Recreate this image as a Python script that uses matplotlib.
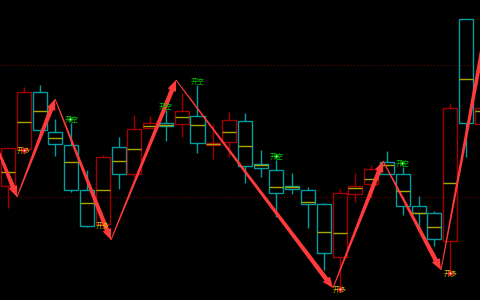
import matplotlib
matplotlib.use('Agg')
import matplotlib.pyplot as plt
from matplotlib.patches import Rectangle, Polygon
from matplotlib.transforms import IdentityTransform
import numpy as np

# OHLC (arbitrary price units)
opens  = [114, 151, 208, 168, 155, 110,  76, 153, 126, 172, 177, 176, 184, 155, 158, 179,
          136, 130, 114, 110,  96,  43, 106, 116, 138, 126,  94,  87,  59, 281, 176]
highs  = [152, 213, 215, 181, 177, 130, 145, 163, 185, 184, 190, 207, 215, 176, 188, 187,
          150, 140, 127, 113,  97, 111, 127, 135, 149, 133, 104,  89, 197, 281, 200]
lows   = [ 92, 151, 167, 144, 108,  73,  76, 111, 123, 172, 159, 163, 147, 141, 143, 117,
          123,  83, 106,  72,  30,  12,  98, 102, 126,  85,  70,  54,  28, 143, 170]
closes = [152, 208, 170, 156, 110,  74, 143, 126, 171, 177, 174, 189, 157, 157, 180, 134,
          132, 107, 111,  96,  47, 107, 114, 131, 126,  94,  87,  61, 192, 177, 192]
mids   = [128, 178, 189, 162, 138,  97, 110, 139, 151, 174, 175, 183, 175, 156, 168, 154,
          135, 113, 113,  98,  68,  67, 112, 121, 135, 109,  87,  73, 117, 221, 189]

# zigzag pivots (bar position, price)
zz_x = [-1.14, 0.57, 2.98, 6.52, 10.64, 20.58, 23.75, 27.42, 30.5]
zz_y = [170, 103, 201, 60, 220, 12, 139, 30, 290]

# signals
buy_idx = [1, 6, 21, 28]
buy_dot = [True, False, True, True]
sell_idx = [4, 10, 12, 17, 25]
sell_dot = [True, False, False, True, True]

levels = [235, 103]

RED = '#a00000'
CYAN = '#009ca0'
YELLOW = '#aaa400'
ARROW = '#ff3a3a'

fig = plt.figure(figsize=(4.8, 3), dpi=100, facecolor='black')
ax = fig.add_axes([0, 0, 1, 1])
ax.set_facecolor('black')
ax.set_xlim(-0.507, 29.89)
ax.set_ylim(0, 300)
ax.axis('off')

for lv in levels:
    ax.axhline(lv, color='#6a0000', lw=0.8, ls=(0, (1, 2)), zorder=1)

w = 0.89
for i in range(len(opens)):
    up = closes[i] >= opens[i]
    c = RED if up else CYAN
    b0, b1 = min(opens[i], closes[i]), max(opens[i], closes[i])
    if lows[i] < b0:
        ax.vlines(i, lows[i], b0, color=c, lw=1, zorder=2)
    if highs[i] > b1:
        ax.vlines(i, b1, highs[i], color=c, lw=1, zorder=2)
    ax.add_patch(Rectangle((i - w / 2, b0), w, b1 - b0, facecolor='none',
                           edgecolor=c, lw=1, zorder=2))
    ax.hlines(mids[i], i - w / 2, i + w / 2, color=YELLOW, lw=1, zorder=3)


def tapered_arrow(p0, p1, color):
    a = ax.transData.transform(p0)
    b = ax.transData.transform(p1)
    d = b - a
    u = d / np.hypot(*d)
    n = np.array([-u[1], u[0]])
    base = b - u * 11
    pts = [a + n * 0.5, base + n * 2.3, base + n * 4.5, b,
           base - n * 4.5, base - n * 2.3, a - n * 0.5]
    ax.add_patch(Polygon(pts, closed=True, transform=IdentityTransform(),
                         facecolor=color, edgecolor='none', zorder=4))


for k in range(len(zz_x) - 1):
    tapered_arrow((zz_x[k], zz_y[k]), (zz_x[k + 1], zz_y[k + 1]), ARROW)

cjk = ['Noto Sans CJK SC', 'DejaVu Sans']
for i, dot in zip(buy_idx, buy_dot):
    ax.text(i, lows[i] - 2, '开多', color='#d8c000', fontsize=5, family=cjk,
            ha='center', va='center', zorder=5)
    if dot:
        ax.plot(i, lows[i] - 1, 'o', ms=3.5, color='#ff2020', mec='none', zorder=6)
        ax.plot(i, lows[i] - 1, 'o', ms=1.2, color='white', mec='none', zorder=7)

for i, dot in zip(sell_idx, sell_dot):
    ax.text(i, highs[i] + 3, '开空', color='#00c000', fontsize=5, family=cjk,
            ha='center', va='center', zorder=5)
    if dot:
        ax.plot(i - 0.05, highs[i] + 4, 'o', ms=3.5, color='#00a000', mec='none', zorder=6)
        ax.plot(i - 0.05, highs[i] + 4, 'o', ms=1.2, color='white', mec='none', zorder=7)

fig.savefig('out.png', dpi=100, facecolor='black')
